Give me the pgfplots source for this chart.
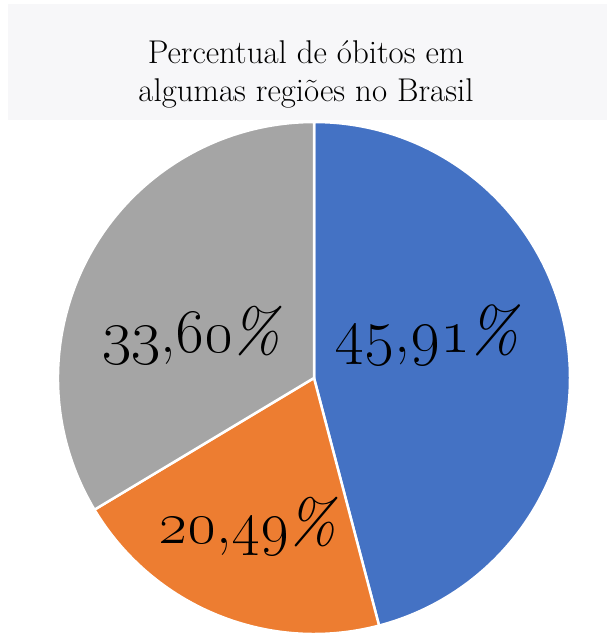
\RequirePackage{fix-cm}
\documentclass[border=0pt]{standalone}
\usepackage{pgfplots}
\pgfplotsset{compat=1.18}
\definecolor{cblue}{HTML}{4472C4}
\definecolor{corange}{HTML}{ED7D31}
\definecolor{cgray}{HTML}{A5A5A5}
\definecolor{titlebg}{HTML}{F7F7F9}
\newcommand\pct{\kern-3bp{\itshape\%}}
\begin{document}
\begin{tikzpicture}
\useasboundingbox (0bp,0bp) rectangle (607bp,-634bp);
\clip (0bp,0bp) rectangle (607bp,-634bp);
\fill[titlebg] (8bp,-4bp) rectangle (607bp,-120bp);
\node[anchor=base,font=\fontsize{33}{38}\selectfont] at (306bp,-63bp) {Percentual de óbitos em};
\node[anchor=base,font=\fontsize{33}{38}\selectfont] at (306bp,-101bp) {algumas regiões no Brasil};
% data: percentages
\def\pA{45.91}\def\pB{20.49}\def\pC{33.60}
\pgfmathsetmacro\aA{90-\pA*3.6}
\pgfmathsetmacro\aB{\aA-\pB*3.6}
\pgfmathsetmacro\aC{\aB-\pC*3.6}
\pgfmathsetmacro\xA{cos(\aA)}\pgfmathsetmacro\yA{sin(\aA)}
\pgfmathsetmacro\xB{cos(\aB)}\pgfmathsetmacro\yB{sin(\aB)}
\begin{axis}[
  scale only axis, width=512bp, height=512bp,
  xmin=-1, xmax=1, ymin=-1, ymax=1,
  hide axis, anchor=center, at={(314bp,-378bp)},
  clip=false]
\fill[cblue, draw=white, line width=2.5bp] (axis cs:0,0) -- (axis cs:0,1) arc[start angle=90, end angle=\aA, radius=256bp] -- cycle;
\fill[corange, draw=white, line width=2.5bp] (axis cs:0,0) -- (axis cs:\xA,\yA) arc[start angle=\aA, end angle=\aB, radius=256bp] -- cycle;
\fill[cgray, draw=white, line width=2.5bp] (axis cs:0,0) -- (axis cs:\xB,\yB) arc[start angle=\aB, end angle=\aC, radius=256bp] -- cycle;
\node[anchor=base, font=\fontsize{64}{64}\selectfont] at (axis cs:0.44,0.10) {\oldstylenums{45},\oldstylenums{91}\pct};
\node[anchor=base, font=\fontsize{62}{62}\selectfont] at (axis cs:-0.48,0.10) {\oldstylenums{33},\oldstylenums{60}\pct};
\node[anchor=base, font=\fontsize{62}{62}\selectfont] at (axis cs:-0.26,-0.645) {\oldstylenums{20},\oldstylenums{49}\pct};
\end{axis}
\end{tikzpicture}
\end{document}
